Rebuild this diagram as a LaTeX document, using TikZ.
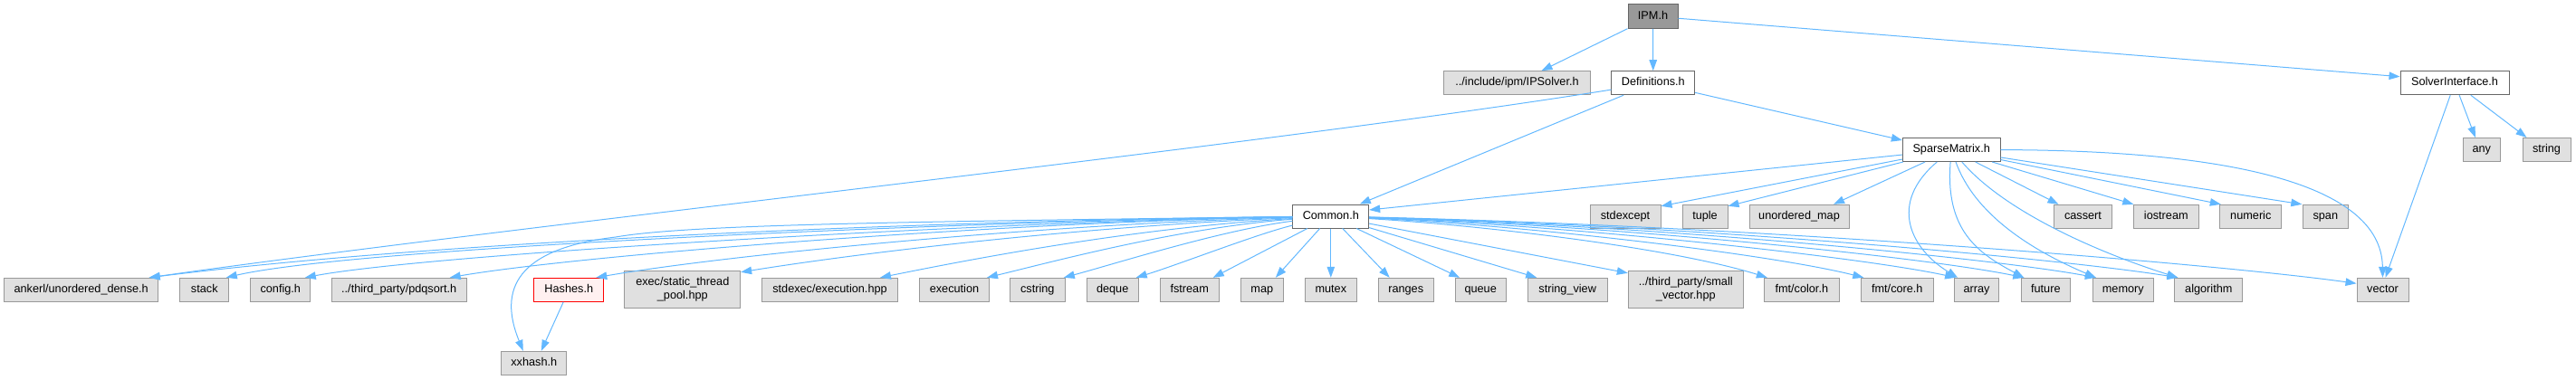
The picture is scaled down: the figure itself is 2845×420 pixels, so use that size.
\documentclass[tikz,border=0pt]{standalone}
\usepackage{fontspec}
\setmainfont{Liberation Sans}
\usetikzlibrary{arrows.meta}
\definecolor{edgec}{HTML}{63B8FF}
\definecolor{gfill}{HTML}{E0E0E0}
\definecolor{gborder}{HTML}{999999}
\definecolor{wborder}{HTML}{666666}
\definecolor{topfill}{HTML}{999999}
\definecolor{redfill}{HTML}{FFF0F0}
\begin{document}
\begin{tikzpicture}[x=1pt,y=-1pt,
  base/.style={rectangle, inner sep=0pt, line width=1pt,
    font=\fontsize{12.7}{15}\selectfont, text height=9.3pt, text depth=2.7pt,
    minimum height=26pt},
  sysbox/.style={base, fill=gfill, draw=gborder},
  locbox/.style={base, fill=white, draw=wborder},
  twoline/.style={rectangle, inner sep=0pt, line width=1pt,
    font=\fontsize{12.7}{15}\selectfont, align=center,
    fill=gfill, draw=gborder, minimum height=41.4pt},
  edge/.style={draw=edgec, line width=1pt, -{Triangle[length=12pt,width=8.5pt]}}]
\useasboundingbox (0,0) rectangle (2845,420);

% top levels
\node[base, fill=topfill, draw=wborder, minimum width=55pt, minimum height=26.6pt] (ipm) at (1825.5,18) {IPM.h};
\node[sysbox, minimum width=161.7pt] (ipsolver) at (1675.5,91.7) {../include/ipm/IPSolver.h};
\node[locbox, minimum width=91.7pt] (defs) at (1825.8,91.7) {Definitions.h};
\node[locbox, minimum width=120pt] (solver) at (2711,91.7) {SolverInterface.h};
\node[locbox, minimum width=107.7pt] (sparse) at (2155.2,165.5) {SparseMatrix.h};
\node[sysbox, minimum width=41.6pt] (any) at (2740.8,165.5) {any};
\node[sysbox, minimum width=53pt] (string) at (2812.5,165.5) {string};

% middle row
\node[locbox, minimum width=83.7pt] (common) at (1469.8,239) {Common.h};
\node[sysbox, minimum width=78pt] (stdexcept) at (1795,239.3) {stdexcept};
\node[sysbox, minimum width=50pt] (tuple) at (1883,239.3) {tuple};
\node[sysbox, minimum width=110pt] (umap) at (1987,239.3) {unordered\_map};
\node[sysbox, minimum width=64.4pt] (cassert) at (2300.5,239.3) {cassert};
\node[sysbox, minimum width=72pt] (iostream) at (2392.3,239.3) {iostream};
\node[sysbox, minimum width=67.7pt] (numeric) at (2485.8,239.3) {numeric};
\node[sysbox, minimum width=50pt] (span) at (2568.3,239.3) {span};

% bottom row
\node[sysbox, minimum width=170pt] (ankerl) at (89.7,320.3) {ankerl/unordered\_dense.h};
\node[sysbox, minimum width=53.7pt] (stack) at (225.8,320.3) {stack};
\node[sysbox, minimum width=65.7pt] (config) at (309.8,320.3) {config.h};
\node[sysbox, minimum width=148.7pt] (pdqsort) at (440.7,320.3) {../third\_party/pdqsort.h};
\node[base, fill=redfill, draw=red, minimum width=76.7pt] (hashes) at (628.3,320.3) {Hashes.h};
\node[twoline, minimum width=127.7pt] (pool) at (753.8,320) {exec/static\_thread\\\_pool.hpp};
\node[sysbox, minimum width=149.6pt] (stdexec) at (916.5,320.3) {stdexec/execution.hpp};
\node[sysbox, minimum width=76.6pt] (execution) at (1054,320.3) {execution};
\node[sysbox, minimum width=61pt] (cstring) at (1145.8,320.3) {cstring};
\node[sysbox, minimum width=56.7pt] (deque) at (1228.7,320.3) {deque};
\node[sysbox, minimum width=65.3pt] (fstream) at (1313.7,320.3) {fstream};
\node[sysbox, minimum width=47pt] (map) at (1393.8,320.3) {map};
\node[sysbox, minimum width=57pt] (mutex) at (1469.8,320.3) {mutex};
\node[sysbox, minimum width=60.7pt] (ranges) at (1552.7,320.3) {ranges};
\node[sysbox, minimum width=56.3pt] (queue) at (1635.2,320.3) {queue};
\node[sysbox, minimum width=87.7pt] (strview) at (1731.2,320.3) {string\_view};
\node[twoline, minimum width=127pt] (smallvec) at (1861.8,320) {../third\_party/small\\\_vector.hpp};
\node[sysbox, minimum width=83.2pt] (fmtcolor) at (1989.8,320.3) {fmt/color.h};
\node[sysbox, minimum width=80pt] (fmtcore) at (2095.3,320.3) {fmt/core.h};
\node[sysbox, minimum width=49.7pt] (array) at (2183.1,320.3) {array};
\node[sysbox, minimum width=54pt] (future) at (2259.3,320.3) {future};
\node[sysbox, minimum width=67pt] (memory) at (2344.8,320.3) {memory};
\node[sysbox, minimum width=74.7pt] (algorithm) at (2439.3,320.3) {algorithm};
\node[sysbox, minimum width=57pt] (vector) at (2631.5,320.3) {vector};
\node[sysbox, minimum width=71.7pt] (xxhash) at (589.8,401.3) {xxhash.h};

% IPM.h
\draw[edge] (ipm) -- ([xshift=27pt]ipsolver.north);
\draw[edge] (ipm) -- (defs);
\draw[edge] (ipm) -- ([yshift=7pt]solver.west);

% Definitions.h
\draw[edge] (defs) .. controls (1380,163) and (565,250) .. ([xshift=75pt]ankerl.north);
\draw[edge] (defs) -- ([xshift=32pt]common.north);
\draw[edge] (defs) -- ([yshift=-3pt]sparse.north west);

% SolverInterface.h
\draw[edge] (solver) -- ([xshift=-7pt]any.north);
\draw[edge] (solver) -- ([xshift=-22pt]string.north);
\draw[edge] (solver) -- ([xshift=3pt]vector.north);

% SparseMatrix.h
\draw[edge] (sparse) -- ([yshift=7pt]common.east);
\draw[edge] (sparse) -- ([yshift=-2pt]stdexcept.north east);
\draw[edge] (sparse) -- ([yshift=-2pt]tuple.north east);
\draw[edge] (sparse) -- ([xshift=38pt]umap.north);
\draw[edge] (sparse) -- ([xshift=-27pt]cassert.north);
\draw[edge] (sparse) -- ([xshift=-36pt]iostream.north);
\draw[edge] (sparse) -- ([xshift=-33pt]numeric.north);
\draw[edge] (sparse) -- ([xshift=-26pt]span.north);
\draw[edge] (sparse) .. controls (2450,166) and (2630,200) .. (vector.north);
\draw[edge] (sparse) .. controls (2085,225) and (2110,275) .. ([xshift=-21pt]array.north);
\draw[edge] (sparse) .. controls (2148,255) and (2185,280) .. ([xshift=-24pt]future.north);
\draw[edge] (sparse) .. controls (2180,235) and (2240,275) .. ([xshift=-30pt]memory.north);
\draw[edge] (sparse) .. controls (2215,235) and (2320,280) .. ([xshift=-34pt]algorithm.north);

% Common.h to the left
\draw[edge] (common) .. controls (1100,243) and (520,262) .. ([xshift=75pt]ankerl.north);
\draw[edge] (common) .. controls (1100,244) and (400,272) .. ([xshift=24pt]stack.north);
\draw[edge] (common) .. controls (1100,245) and (480,280) .. ([xshift=27pt]config.north);
\draw[edge] (common) .. controls (1100,246) and (640,282) .. ([xshift=56pt]pdqsort.north);
\draw[edge] (common) .. controls (1000,245) and (760,248) .. (680,262)
  .. controls (570,275) and (550,320) .. ([xshift=-12pt]xxhash.north);
\draw[edge] (common) .. controls (1150,248) and (800,282) .. ([xshift=30pt]hashes.north);
\draw[edge] (common) .. controls (1200,250) and (960,278) .. ([yshift=-2pt]pool.north east);
\draw[edge] (common) .. controls (1250,252) and (1070,287) .. ([xshift=55.5pt]stdexec.north);
\draw[edge] (common) .. controls (1300,252) and (1160,290) .. ([xshift=36pt]execution.north);
\draw[edge] (common) .. controls (1350,254) and (1230,292) .. ([xshift=29pt]cstring.north);
\draw[edge] (common) .. controls (1390,258) and (1300,293) .. ([xshift=26pt]deque.north);
\draw[edge] (common) -- ([xshift=26pt]fstream.north);
\draw[edge] (common) -- ([xshift=15pt]map.north);
\draw[edge] (common) -- (mutex);
\draw[edge] (common) -- ([xshift=-18pt]ranges.north);
\draw[edge] (common) -- ([xshift=-23pt]queue.north);
\draw[edge] (common) -- ([xshift=-34pt]strview.north);
\draw[edge] (common) -- ([yshift=-3pt]smallvec.north west);

% Common.h to the right
\draw[edge] (common) .. controls (1650,250) and (1850,275) .. ([xshift=-38pt]fmtcolor.north);
\draw[edge] (common) .. controls (1700,250) and (1960,282) .. ([xshift=-37pt]fmtcore.north);
\draw[edge] (common) .. controls (1750,250) and (2060,285) .. ([xshift=-23pt]array.north);
\draw[edge] (common) .. controls (1800,250) and (2130,285) .. ([xshift=-24pt]future.north);
\draw[edge] (common) .. controls (1850,250) and (2210,287) .. ([xshift=-30pt]memory.north);
\draw[edge] (common) .. controls (1900,250) and (2290,288) .. ([xshift=-34pt]algorithm.north);
\draw[edge] (common) .. controls (1950,250) and (2450,292) .. ([yshift=7pt]vector.west);

% Hashes.h
\draw[edge] (hashes) -- ([xshift=8pt]xxhash.north);
\end{tikzpicture}
\end{document}
